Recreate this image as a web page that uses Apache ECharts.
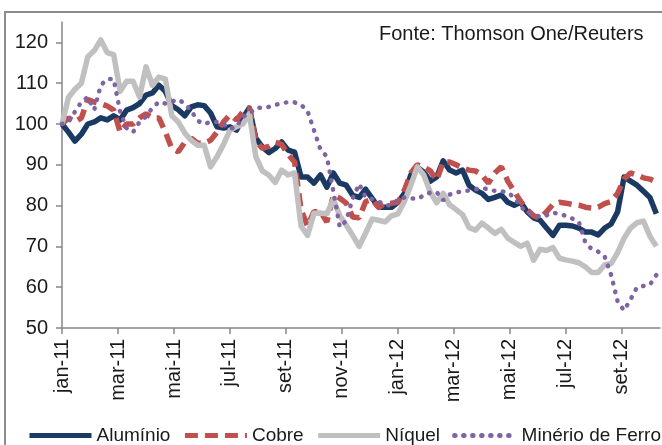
<!DOCTYPE html>
<html>
<head>
<meta charset="utf-8">
<script src="https://cdn.jsdelivr.net/npm/echarts@6/dist/echarts.min.js"></script>
<style>
html,body{margin:0;padding:0;background:#fff;}
#chart{width:662px;height:445px;}
</style>
</head>
<body>
<div id="chart"></div>
<script>
// Tick labels (one every two months, starting jan-11)
const tickLabels = ['jan-11','mar-11','mai-11','jul-11','set-11','nov-11','jan-12','mar-12','mai-12','jul-12','set-12'];
const yTicks = [50, 60, 70, 80, 90, 100, 110, 120];
const seriesNames = ['Alumínio', 'Cobre', 'Níquel', 'Minério de Ferro'];

// Weekly index values (base 100 = first week of jan-11)
const aluminio = [100, 98, 95.8, 97.5, 100, 100.5, 101.5, 101, 102, 101,
  103.4, 104, 105, 107.1, 107.6, 109.5, 108, 104.5, 103.5, 102,
  104.2, 104.7, 104.5, 102.7, 99.3, 99, 99.3, 98.5, 101.5, 103.9,
  96.5, 94.4, 93, 94, 95.6, 93.6, 93.1, 87, 87, 85.5,
  87.5, 84.5, 88, 85.5, 85, 82.5, 82, 84, 81.8, 79.6,
  79.6, 79.6, 80.8, 83, 87.5, 89.4, 88.2, 86, 87, 91,
  88.7, 88, 88.7, 85, 83.8, 83, 81.5, 82, 82.6, 80.8,
  80.1, 80.8, 78.5, 77, 76.4, 74.5, 72.7, 75.2, 75.2, 75,
  74.5, 73.5, 73.5, 72.8, 74.5, 75.5, 78.5, 87, 86, 85,
  83.5, 82, 78];
const cobre = [100, 101.5, 100.5, 101.5, 106, 105.4, 105, 104.4, 103.4, 98,
  100, 100, 101.5, 102.5, 101.5, 101.5, 98, 94, 93.2, 95.5,
  96.5, 95.3, 95.3, 96, 98, 100.5, 102.2, 101, 103, 104,
  96, 94, 94.5, 95.5, 95, 92.5, 90.7, 79, 75, 78.5,
  78.5, 76, 82.5, 81.8, 80.6, 77.2, 77, 81, 81.5, 79.5,
  80.6, 80.6, 80.8, 83.8, 88, 90, 89.5, 88.5, 86.2, 90.7,
  90.7, 90, 89.2, 88.7, 88.5, 87.5, 85.5, 88, 89.5, 86,
  83.5, 81, 79, 77.5, 76.9, 78.5, 80.3, 80.8, 80.6, 80.3,
  80.1, 79.6, 79.4, 79.6, 80.5, 81, 83, 86.5, 88, 87.5,
  86.8, 86.5, 85.8];
const niquel = [100, 106.5, 108.5, 110, 116.5, 118, 120.6, 117.5, 117, 108,
  110.5, 110.5, 106.6, 114, 109.5, 111.5, 111, 102, 100.5, 97.8,
  96, 94.8, 94.8, 89.5, 92, 95, 98.5, 99.3, 100, 102.5,
  92, 88.5, 87.5, 85.7, 88.7, 87.5, 88, 75, 72.7, 78.1,
  78.2, 78, 81.5, 77.5, 75.2, 72.7, 70, 73.3, 76.7, 76.4,
  76, 77.5, 78, 81, 85, 89.5, 87.5, 83.3, 80.7, 83,
  80.2, 79, 77.8, 74.6, 74, 75.7, 74.5, 73.2, 74.2, 72,
  71, 70, 70.8, 66.6, 69.3, 69, 69.7, 67.1, 66.7, 66.4,
  66, 65, 63.6, 63.6, 65.5, 65.8, 68.5, 72, 74.5, 75.8,
  76.2, 72.5, 70];
const minerio = [100, 100.5, 103, 105.4, 106.6, 103.5, 109.5, 111, 111, 103,
  99, 98, 100.5, 101.8, 104, 105.4, 105, 105.5, 106, 105,
  103.2, 100.8, 100, 100.5, 100.5, 100, 98.8, 99.3, 101.8, 102.5,
  103.9, 104, 104.2, 104.7, 105, 105.4, 105.3, 104.7, 103.2, 98.5,
  93.8, 92, 83.5, 74.7, 76.3, 81.8, 85.3, 82, 81.6, 81,
  80.1, 80.1, 81.5, 82, 81.8, 81.6, 82.5, 83.2, 83.3, 81.3,
  82.7, 83.2, 83.5, 83.7, 84, 84.3, 84, 83.6, 83.5, 83.2,
  82, 79.8, 78.2, 78, 77.2, 77.6, 78.3, 77.9, 77.5, 76.8,
  76, 71, 69.3, 68.7, 67.5, 63, 56.5, 54.3, 57, 60,
  60.3, 60.6, 63];

const MONTHS_PER_WEEK = 12 / 52;
function toPoints(arr) { return arr.map((v, i) => [i * MONTHS_PER_WEEK, v]); }

const font = '"Liberation Sans", Arial, sans-serif';
const axisGray = '#868686';

const chart = echarts.init(document.getElementById('chart'), null, {renderer: 'canvas'});
chart.setOption({
  animation: false,
  backgroundColor: '#ffffff',
  textStyle: {fontFamily: font},
  grid: {left: 62, right: 2, top: 22, bottom: 117, containLabel: false, outerBoundsMode: 'none'},
  graphic: [
    {type: 'rect', shape: {x: 5, y: 12, width: 720, height: 520},
     style: {fill: 'none', stroke: '#8c8c8c', lineWidth: 2}, silent: true},
    {type: 'text', left: 379, top: 24,
     style: {text: 'Fonte: Thomson One/Reuters', font: '20px ' + font, fill: '#1a1a1a'}}
  ],
  legend: {
    left: 22, top: 421, width: 650, itemWidth: 62, itemHeight: 14, itemGap: 12,
    itemStyle: {opacity: 0},
    lineStyle: {width: 5},
    textStyle: {fontSize: 19, color: '#1a1a1a', fontFamily: font},
    data: seriesNames
  },
  xAxis: {
    type: 'value', min: 0, max: 21.36,
    axisLine: {show: true, lineStyle: {color: axisGray, width: 1.5}},
    axisTick: {show: true, length: 6, customValues: tickLabels.map((_, k) => 2 * k),
               lineStyle: {color: axisGray, width: 1.5}},
    axisLabel: {
      customValues: tickLabels.map((_, k) => 2 * k),
      rotate: 90, margin: 11, fontSize: 20, color: '#1a1a1a', fontFamily: font,
      formatter: v => tickLabels[Math.round(v / 2)]
    },
    splitLine: {show: false}
  },
  yAxis: {
    type: 'value', min: 50, max: 125,
    axisLine: {show: true, lineStyle: {color: axisGray, width: 1.5}},
    axisTick: {show: true, length: 6, customValues: yTicks, lineStyle: {color: axisGray, width: 1.5}},
    axisLabel: {customValues: yTicks, margin: 14, fontSize: 20, color: '#1a1a1a', fontFamily: font},
    splitLine: {show: false}
  },
  series: [
    {name: seriesNames[0], type: 'line', data: toPoints(aluminio), symbol: 'none',
     color: '#1b3a63', lineStyle: {width: 5.5, color: '#1b3a63', join: 'round'}},
    {name: seriesNames[1], type: 'line', data: toPoints(cobre), symbol: 'none',
     color: '#c0504d', lineStyle: {width: 5.5, color: '#c0504d', type: [13, 7]}},
    {name: seriesNames[2], type: 'line', data: toPoints(niquel), symbol: 'none',
     color: '#c0c0c0', lineStyle: {width: 5.5, color: '#c0c0c0', join: 'round'}},
    {name: seriesNames[3], type: 'line', data: toPoints(minerio), symbol: 'none',
     color: '#8064a2', lineStyle: {width: 4.5, color: '#8064a2', type: [0.5, 8.5], cap: 'round'}}
  ]
});
</script>
</body>
</html>
